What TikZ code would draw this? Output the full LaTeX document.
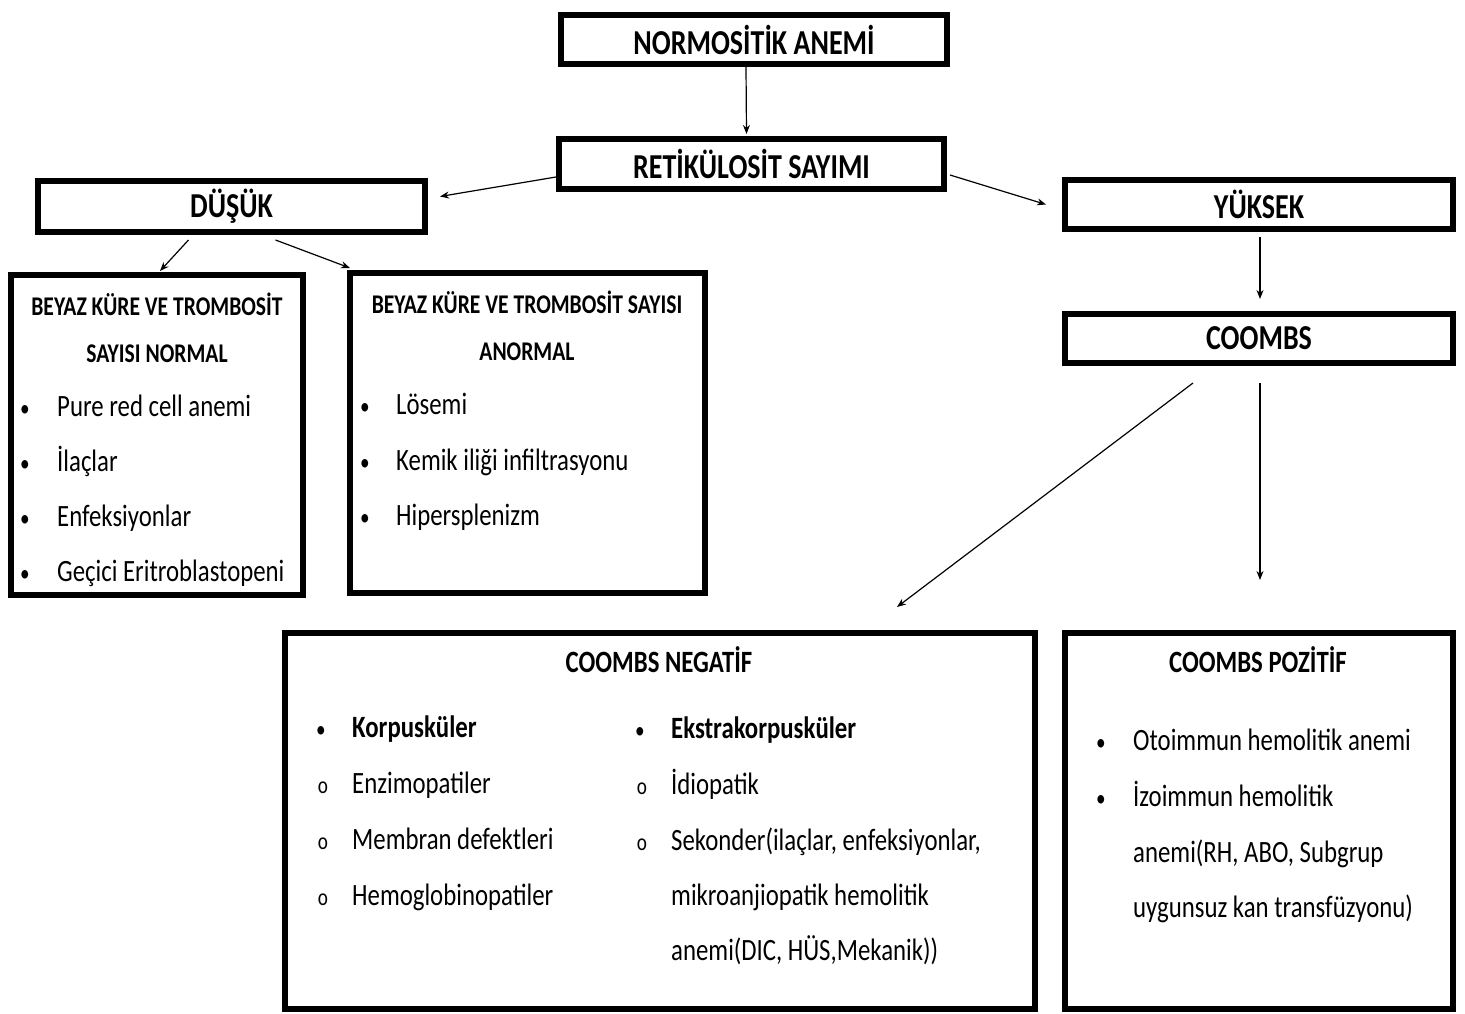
\documentclass[tikz,border=0pt]{standalone}
\usepackage{fontspec}
\setmainfont{Carlito}[FakeStretch=0.8]
\usetikzlibrary{arrows.meta}
\tikzset{
    heavy-box/.style = {draw=black, line width=6pt, rectangle, inner sep=0pt},
    heavy-box-title/.style = {font=\fontsize{35}{35}\selectfont\bfseries},
    box-title/.style = {font=\fontsize{31}{31}\selectfont\bfseries, inner sep=0pt},
    small-title/.style = {font=\fontsize{27}{27}\selectfont\bfseries, inner sep=0pt},
    item-text/.style = {font=\fontsize{31}{31}\selectfont, anchor=base west, inner sep=0pt},
    item-mark/.style = {font=\fontsize{24}{24}\selectfont, anchor=base, inner sep=0pt},
    link/.style = {-{Stealth[length=9pt,width=7pt]}, line width=1.2pt},
}

\begin{document}
\begin{tikzpicture}[x=1pt, y=-1pt]
\useasboundingbox (0,0) rectangle (1465,1014);

% top row
\node [heavy-box, heavy-box-title, minimum width=386pt, minimum height=49pt] (norm) at (754,39.5) {NORMOSİTİK ANEMİ};
\node [heavy-box, heavy-box-title, minimum width=385pt, minimum height=50pt] (ret) at (751.5,164) {RETİKÜLOSİT SAYIMI};
\node [heavy-box, heavy-box-title, minimum width=387pt, minimum height=51pt] (dusuk) at (231.5,206.5) {DÜŞÜK};
\node [heavy-box, heavy-box-title, minimum width=388pt, minimum height=49pt] (yuksek) at (1259,204.5) {YÜKSEK};
\node [heavy-box, heavy-box-title, minimum width=388pt, minimum height=49pt] (coombs) at (1259,338.5) {COOMBS};

% big boxes
\node [heavy-box, minimum width=292pt, minimum height=320pt] (normal) at (157,435) {};
\node [heavy-box, minimum width=355pt, minimum height=320pt] (anormal) at (527.5,433) {};
\node [heavy-box, minimum width=750pt, minimum height=376pt] (neg) at (660,821) {};
\node [heavy-box, minimum width=388pt, minimum height=376pt] (poz) at (1259,821) {};

% normal
\node [small-title] (normal-t1) at (157,304) {BEYAZ KÜRE VE TROMBOSİT};
\node [small-title] (normal-t2) at (157,354) {SAYISI NORMAL};
\foreach \txt [count=\i] in {Pure red cell anemi, İlaçlar, Enfeksiyonlar, Geçici Eritroblastopeni} {
    \node [item-mark] (normal-m\i) at (25,{361+55*\i}) {•};
    \node [item-text] (normal-i\i) at (57,{361+55*\i}) {\txt};
}

% anormal
\node [small-title] (anormal-t1) at (527,302) {BEYAZ KÜRE VE TROMBOSİT SAYISI};
\node [small-title] (anormal-t2) at (527,352) {ANORMAL};
\foreach \txt [count=\i] in {Lösemi, Kemik iliği infiltrasyonu, Hipersplenizm} {
    \node [item-mark] (anormal-m\i) at (365,{359+55.5*\i}) {•};
    \node [item-text] (anormal-i\i) at (396,{359+55.5*\i}) {\txt};
}

% coombs negatif
\node [box-title] (neg-t) at (659,660) {COOMBS NEGATİF};
\node [item-mark] (neg-m0) at (321,737) {•};
\node [item-text] (neg-i0) at (352,737) {\bfseries Korpusküler};
\foreach \txt [count=\i] in {Enzimopatiler, Membran defektleri, Hemoglobinopatiler} {
    \node [item-mark] (neg-m\i) at (323,{737+56*\i}) {o};
    \node [item-text] (neg-i\i) at (352,{737+56*\i}) {\txt};
}
\node [item-mark] (neg-n0) at (640,738) {•};
\node [item-text] (neg-j0) at (671,738) {\bfseries Ekstrakorpusküler};
\node [item-mark] (neg-n1) at (642,794) {o};
\node [item-text] (neg-j1) at (671,794) {İdiopatik};
\node [item-mark] (neg-n2) at (642,850) {o};
\node [item-text] (neg-j2) at (671,850) {Sekonder(ilaçlar, enfeksiyonlar,};
\node [item-text] (neg-j3) at (671,905) {mikroanjiopatik hemolitik};
\node [item-text] (neg-j4) at (671,960) {anemi(DIC, HÜS,Mekanik))};

% coombs pozitif
\node [box-title] (poz-t) at (1258,660) {COOMBS POZİTİF};
\node [item-mark] (poz-m1) at (1101,750) {•};
\node [item-text] (poz-i1) at (1133,750) {Otoimmun hemolitik anemi};
\node [item-mark] (poz-m2) at (1101,806) {•};
\node [item-text] (poz-i2) at (1133,806) {İzoimmun hemolitik};
\node [item-text] (poz-i3) at (1133,862) {anemi(RH, ABO, Subgrup};
\node [item-text] (poz-i4) at (1133,917) {uygunsuz kan transfüzyonu)};

% arrows
\draw [link] ([xshift=-8pt]norm.south) -- ([xshift=-5pt, yshift=2pt]ret.north);
\draw [link] ([yshift=-13pt]ret.west) -- ([xshift=12pt, yshift=10pt]dusuk.east);
\draw [link] ([xshift=3pt, yshift=-11pt]ret.east) -- ([xshift=-16pt]yuksek.west);
\draw [link] ([xshift=-43pt, yshift=-5pt]dusuk.south) -- ([xshift=3pt, yshift=1pt]normal.north);
\draw [link] ([xshift=44pt, yshift=-5pt]dusuk.south) -- ([xshift=3pt, yshift=2pt]anormal.north west);
\draw [link] ([xshift=1pt, yshift=-5pt]yuksek.south) -- ([xshift=1pt, yshift=12pt]coombs.north);
\draw [link] ([xshift=-66pt, yshift=-17pt]coombs.south) -- ([xshift=237pt, yshift=23pt]neg.north);
\draw [link] ([xshift=1pt, yshift=-17pt]coombs.south) -- ([xshift=1pt, yshift=50pt]poz.north);
\end{tikzpicture}
\end{document}
